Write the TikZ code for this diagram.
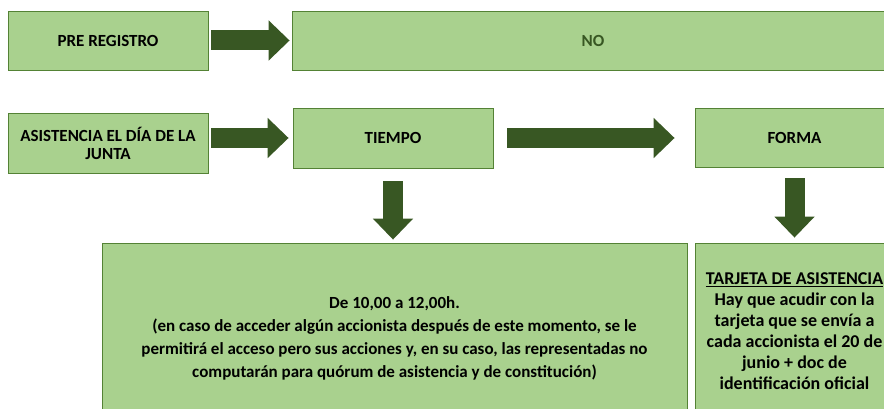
\documentclass[tikz,border=0pt]{standalone}
\usepackage{fontspec}
\setmainfont{Carlito}
\usepackage{tikz}
\usetikzlibrary{arrows.meta, positioning, calc}

\definecolor{boxfill}{RGB}{169,209,142}
\definecolor{boxline}{RGB}{84,130,53}
\definecolor{darkgreen}{RGB}{56,87,35}

\begin{document}
\begin{tikzpicture}[
    x=1pt, y=1pt,
    box/.style={rectangle, draw=boxline, line width=0.8pt, fill=boxfill, align=center, font=\fontsize{17}{18}\selectfont\bfseries, inner sep=2pt},
    bigarrow/.style={-{Triangle[length=21pt, width=39pt]}, line width=20pt, draw=darkgreen},
    infotext/.style={font=\fontsize{17}{23}\selectfont\bfseries},
    cardtext/.style={font=\fontsize{18}{21}\selectfont\bfseries}
]
\useasboundingbox (0,0) rectangle (884,409);

% Boxes
\node[box, minimum width=200pt, minimum height=59pt] (prereg) at (108, 368.5) {PRE REGISTRO};
\node[box, minimum width=602pt, minimum height=59pt, text=darkgreen] (no) at (593, 368.5) {NO};
\node[box, minimum width=200pt, minimum height=60pt] (asistencia) at (108, 266) {ASISTENCIA EL DÍA DE LA\\JUNTA};
\node[box, minimum width=200pt, minimum height=60pt] (tiempo) at (393, 271) {TIEMPO};
\node[box, minimum width=199pt, minimum height=59pt] (forma) at (794.5, 271.5) {FORMA};
\node[box, infotext, minimum width=585pt, minimum height=190pt] (horario) at (394.5, 71) {De 10,00 a 12,00h.\\(en caso de acceder algún accionista después de este momento, se le\\permitirá el acceso pero sus acciones y, en su caso, las representadas no\\computarán para quórum de asistencia y de constitución)};
\node[box, cardtext, minimum width=199pt, minimum height=177pt] (tarjeta) at (794.5, 77.5) {\underline{TARJETA DE ASISTENCIA}\\Hay que acudir con la\\tarjeta que se envía a\\cada accionista el 20 de\\junio + doc de\\identificación oficial};

% Arrows
\draw[bigarrow, shorten <=3pt, shorten >=2pt] (prereg.east) -- (no.west);
\draw[bigarrow, shorten <=3pt, shorten >=4pt] (tiempo.west -| asistencia.east) -- (tiempo.west);
\draw[bigarrow, shorten <=14pt, shorten >=20pt] (tiempo.east) -- (tiempo.east -| forma.west);
\draw[bigarrow, shorten <=13pt, shorten >=3pt] (tiempo.south) -- (tiempo.south |- horario.north);
\draw[bigarrow, shorten <=11pt, shorten >=5pt] (forma.south) -- (tarjeta.north);

\end{tikzpicture}
\end{document}
